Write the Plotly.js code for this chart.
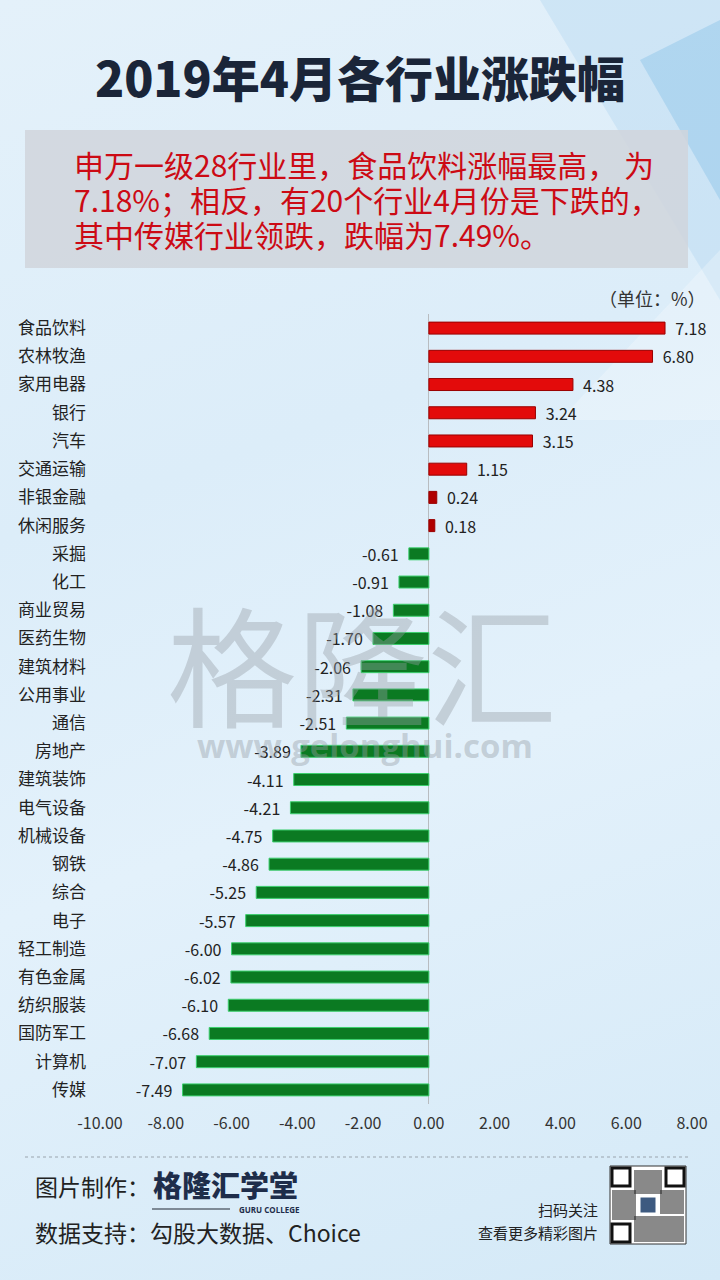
<!DOCTYPE html>
<html>
<head>
<meta charset="utf-8">
<script src="https://cdn.plot.ly/plotly-3.0.1.min.js"></script>
<style>
html,body{margin:0;padding:0;}
body{width:720px;height:1280px;overflow:hidden;
background:linear-gradient(160deg,#e4f1fa 0%,#dcedf9 35%,#e3f1fb 60%,#d4e9f7 100%);}
#chart{width:720px;height:1280px;}
</style>
</head>
<body>
<div id="chart"></div>
<script>
// ---- data ----
const industries = ["食品饮料","农林牧渔","家用电器","银行","汽车","交通运输","非银金融","休闲服务","采掘","化工","商业贸易","医药生物","建筑材料","公用事业","通信","房地产","建筑装饰","电气设备","机械设备","钢铁","综合","电子","轻工制造","有色金属","纺织服装","国防军工","计算机","传媒"];
const changes = [7.18,6.80,4.38,3.24,3.15,1.15,0.24,0.18,-0.61,-0.91,-1.08,-1.70,-2.06,-2.31,-2.51,-3.89,-4.11,-4.21,-4.75,-4.86,-5.25,-5.57,-6.00,-6.02,-6.10,-6.68,-7.07,-7.49];
const xTicks = [-10,-8,-6,-4,-2,0,2,4,6,8];
const xTickText = xTicks.map(v => v.toFixed(2));
const titleText = "2019年4月各行业涨跌幅";
const summaryLines = ["申万一级28行业里，食品饮料涨幅最高， 为","7.18%；相反，有20个行业4月份是下跌的，","其中传媒行业领跌，跌幅为7.49%。"];
const unitText = "（单位：%）";

// ---- geometry helpers (plot area in px) ----
const W=720,H=1280, L=100, R=692, T=314, B=1104;
const px = x => (x-L)/(R-L);
const py = y => (B-y)/(B-T);

const fill = changes.map(v => v>=0 ? (Math.abs(v)<0.5 ? '#b00000' : '#e30b0b') : '#0b7a22');
const edge = changes.map(v => v>=0 ? '#9a0000' : '#3ccf6e');
const tmpl = changes.map(v => v>=0 ? '\u00a0\u00a0%{x:.2f}' : '%{x:.2f}\u00a0\u00a0');

const CJK = '"Noto Sans CJK SC", "Noto Sans", sans-serif';

const trace = {
  type:'bar', orientation:'h',
  y: industries, x: changes,
  marker:{color:fill, line:{color:edge, width:1}},
  texttemplate: tmpl, textposition:'outside', cliponaxis:false, constraintext:'none',
  textfont:{family:CJK, size:16, color:'#222'},
  hoverinfo:'skip'
};

const shapes = [
  // decorative triangles top right
  {type:'path', xref:'paper', yref:'paper', path:`M ${px(540)} ${py(0)} L ${px(720)} ${py(0)} L ${px(720)} ${py(300)} Z`, fillcolor:'rgba(150,200,235,0.25)', line:{width:0}, layer:'below'},
  {type:'path', xref:'paper', yref:'paper', path:`M ${px(640)} ${py(60)} L ${px(720)} ${py(20)} L ${px(720)} ${py(200)} Z`, fillcolor:'rgba(120,185,230,0.35)', line:{width:0}, layer:'below'},
  {type:'path', xref:'paper', yref:'paper', path:`M ${px(560)} ${py(420)} L ${px(720)} ${py(250)} L ${px(720)} ${py(420)} Z`, fillcolor:'rgba(255,255,255,0.25)', line:{width:0}, layer:'below'},
  // summary box
  {type:'rect', xref:'paper', yref:'paper', x0:px(25), x1:px(688), y0:py(130), y1:py(268), fillcolor:'rgba(208,213,220,0.85)', line:{width:0}, layer:'below'},
  // footer dotted line
  {type:'line', xref:'paper', yref:'paper', x0:px(25), x1:px(688), y0:py(1157), y1:py(1157), line:{color:'#9aa4ad', width:1, dash:'dot'}},
  // logo underline
  {type:'line', xref:'paper', yref:'paper', x0:px(152), x1:px(230), y0:py(1209), y1:py(1209), line:{color:'#7e8a96', width:2}},
  // QR code placeholder
  {type:'rect', xref:'paper', yref:'paper', x0:px(610), x1:px(686), y0:py(1166), y1:py(1244), fillcolor:'#ffffff', line:{color:'#333', width:1}},
  {type:'rect', xref:'paper', yref:'paper', x0:px(612), x1:px(630), y0:py(1168), y1:py(1186), fillcolor:'#ffffff', line:{color:'#111', width:3}},
  {type:'rect', xref:'paper', yref:'paper', x0:px(666), x1:px(684), y0:py(1168), y1:py(1186), fillcolor:'#ffffff', line:{color:'#111', width:3}},
  {type:'rect', xref:'paper', yref:'paper', x0:px(612), x1:px(630), y0:py(1224), y1:py(1242), fillcolor:'#ffffff', line:{color:'#111', width:3}},
  {type:'rect', xref:'paper', yref:'paper', x0:px(634), x1:px(662), y0:py(1170), y1:py(1194), fillcolor:'rgba(40,40,40,0.55)', line:{width:0}},
  {type:'rect', xref:'paper', yref:'paper', x0:px(634), x1:px(684), y0:py(1216), y1:py(1242), fillcolor:'rgba(40,40,40,0.55)', line:{width:0}},
  {type:'rect', xref:'paper', yref:'paper', x0:px(612), x1:px(636), y0:py(1190), y1:py(1220), fillcolor:'rgba(40,40,40,0.55)', line:{width:0}},
  {type:'rect', xref:'paper', yref:'paper', x0:px(660), x1:px(684), y0:py(1190), y1:py(1214), fillcolor:'rgba(40,40,40,0.55)', line:{width:0}},
  {type:'rect', xref:'paper', yref:'paper', x0:px(640), x1:px(656), y0:py(1197), y1:py(1213), fillcolor:'#3d5a80', line:{color:'#fff', width:1}}
];

const ann = (x,y,text,size,color,opts={}) => Object.assign({xref:'paper', yref:'paper', x:px(x), y:py(y), text, showarrow:false, font:{family:CJK, size, color}}, opts);

const annotations = [
  ann(362,660,'格隆汇',130,'rgba(150,158,166,0.40)',{xanchor:'center', yanchor:'middle'}),
  ann(365,745,'www.gelonghui.com',33,'rgba(150,158,166,0.42)',{xanchor:'center', yanchor:'middle', font:{family:'"Open Sans", sans-serif', size:33, color:'rgba(150,158,166,0.42)', weight:700}}),
  ann(72,164,summaryLines[0],30,'#cc0a14',{xanchor:'left', yanchor:'middle'}),
  ann(72,199,summaryLines[1],30,'#cc0a14',{xanchor:'left', yanchor:'middle'}),
  ann(72,234,summaryLines[2],30,'#cc0a14',{xanchor:'left', yanchor:'middle'}),
  ann(708,298,unitText,18,'#333',{xanchor:'right', yanchor:'middle'}),
  ann(33,1186,'图片制作：',23,'#222',{xanchor:'left', yanchor:'middle'}),
  ann(151,1184,'格隆汇学堂',29,'#1e2d4a',{xanchor:'left', yanchor:'middle', font:{family:CJK, size:29, color:'#1e2d4a', weight:900}}),
  ann(302,1209,'GURU COLLEGE',8,'#1e2d4a',{xanchor:'right', yanchor:'middle', font:{family:'"Open Sans", sans-serif', size:8, color:'#1e2d4a', weight:700}}),
  ann(33,1232,'数据支持：勾股大数据、Choice',23,'#222',{xanchor:'left', yanchor:'middle'}),
  ann(600,1209,'扫码关注',15,'#222',{xanchor:'right', yanchor:'middle'}),
  ann(600,1232,'查看更多精彩图片',15,'#222',{xanchor:'right', yanchor:'middle'})
];

const layout = {
  width:W, height:H,
  paper_bgcolor:'rgba(0,0,0,0)', plot_bgcolor:'rgba(0,0,0,0)',
  margin:{l:L, r:W-R, t:T, b:H-B, pad:0},
  showlegend:false,
  bargap:0.575,
  title:{text:titleText, x:0.5, xanchor:'center', y:1-80/H, yanchor:'middle', yref:'container',
         font:{family:CJK, size:48, color:'#1a2538', weight:900}},
  xaxis:{range:[-10,8], tickvals:xTicks, ticktext:xTickText, showgrid:false,
         zeroline:true, zerolinecolor:'#b8bcc0', zerolinewidth:1, showline:false, ticks:'',
         tickfont:{family:CJK, size:16, color:'#333'}, ticklabelstandoff:8, fixedrange:true},
  yaxis:{autorange:'reversed', type:'category', showgrid:false, zeroline:false, showline:false, ticks:'',
         tickfont:{family:CJK, size:17, color:'#222'}, ticklabelstandoff:13, fixedrange:true},
  shapes, annotations
};

Plotly.newPlot('chart',[trace],layout,{displayModeBar:false, staticPlot:true});
</script>
</body>
</html>
